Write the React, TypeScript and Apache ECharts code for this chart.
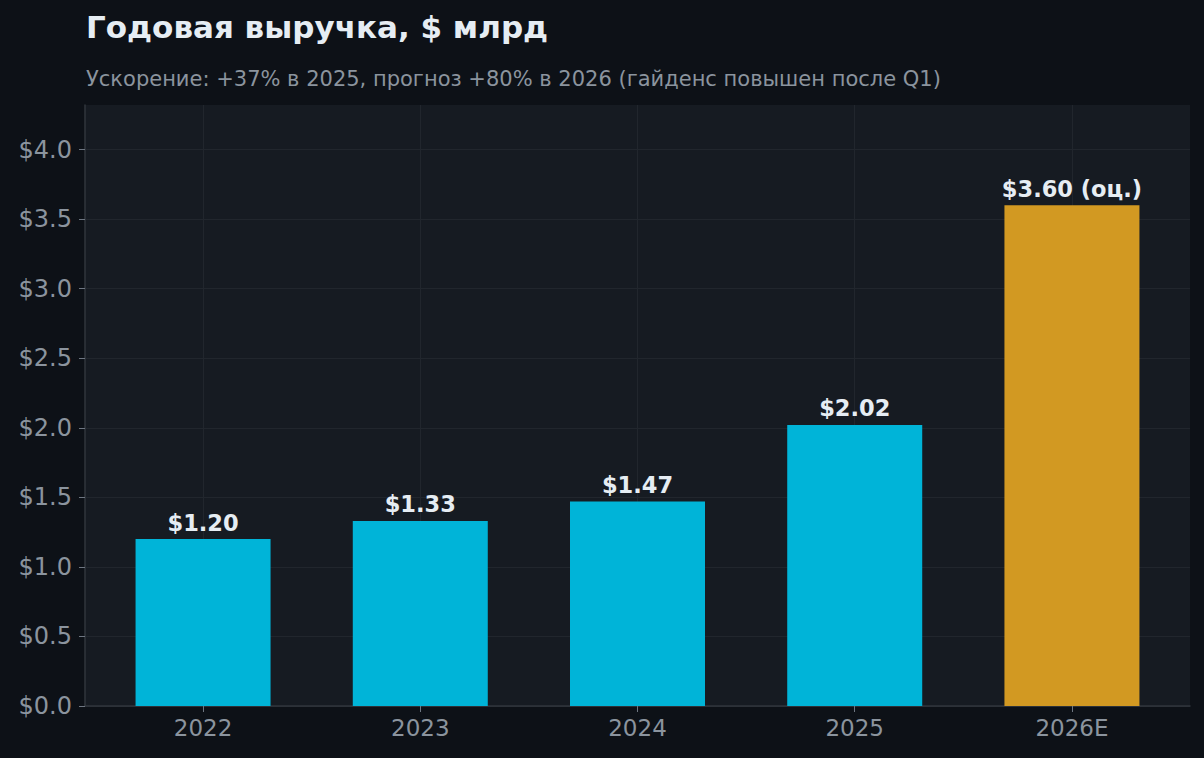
import React, { useEffect, useRef } from 'react'
import * as echarts from 'echarts'

// данные графика
const years = ['2022', '2023', '2024', '2025', '2026E']
const revenue = [1.2, 1.33, 1.47, 2.02, 3.6]
const isEstimate = [false, false, false, false, true]
const yTicks = [0, 0.5, 1.0, 1.5, 2.0, 2.5, 3.0, 3.5, 4.0]

const titleText = 'Годовая выручка, $ млрд'
const subtitleText = 'Ускорение: +37% в 2025, прогноз +80% в 2026 (гайденс повышен после Q1)'

const FONT = '"DejaVu Sans", sans-serif'

export default function App() {
  const chartRef = useRef<HTMLDivElement>(null)

  useEffect(() => {
    document.body.style.margin = '0'
    document.body.style.background = '#0d1117'
    if (!chartRef.current) return
    const chart = echarts.init(chartRef.current, null, { renderer: 'svg' })

    const option = {
      animation: false,
      backgroundColor: '#0d1117',
      textStyle: { fontFamily: FONT },
      title: [
        {
          text: titleText,
          left: 86,
          top: 11,
          padding: 0,
          textStyle: { color: '#e6edf3', fontSize: 31, fontWeight: 'bold', fontFamily: FONT }
        },
        {
          text: subtitleText,
          left: 86,
          top: 68,
          padding: 0,
          textStyle: { color: '#8b949e', fontSize: 21, fontWeight: 'normal', fontFamily: FONT }
        }
      ],
      grid: {
        left: 85,
        right: 14,
        top: 105,
        bottom: 52,
        show: true,
        backgroundColor: '#161b22',
        borderWidth: 0
      },
      xAxis: {
        type: 'value',
        min: -0.5435,
        max: 4.5435,
        axisLine: { show: true, onZero: false, lineStyle: { color: '#30363d', width: 1.5 } },
        axisTick: {
          show: true,
          customValues: years.map((_, i) => i),
          length: 6,
          lineStyle: { color: '#6e7681' }
        },
        axisLabel: {
          customValues: years.map((_, i) => i),
          formatter: (v: number) => years[Math.round(v)] ?? '',
          color: '#8b949e',
          fontSize: 23,
          margin: 10,
          fontFamily: FONT
        },
        splitLine: { show: false }
      },
      yAxis: {
        type: 'value',
        min: 0,
        max: 4.32,
        axisLine: { show: true, onZero: false, lineStyle: { color: '#30363d', width: 1.5 } },
        axisTick: {
          show: true,
          customValues: yTicks,
          length: 6,
          lineStyle: { color: '#6e7681' }
        },
        axisLabel: {
          customValues: yTicks,
          formatter: (v: number) => `$${v.toFixed(1)}`,
          color: '#8b949e',
          fontSize: 24,
          margin: 13,
          fontFamily: FONT
        },
        splitLine: { show: true, lineStyle: { color: '#21262d', width: 1 } }
      },
      series: [
        {
          type: 'bar',
          z: 2,
          barWidth: 135,
          data: revenue.map((v, i) => ({
            value: [i, v],
            itemStyle: { color: isEstimate[i] ? '#d29922' : '#00b4d8' }
          })),
          label: {
            show: true,
            position: 'top',
            distance: 5,
            color: '#e6edf3',
            fontSize: 22.5,
            fontWeight: 'bold',
            fontFamily: FONT,
            formatter: (p: any) => {
              const i = p.dataIndex
              return `$${revenue[i].toFixed(2)}` + (isEstimate[i] ? ' (оц.)' : '')
            }
          },
          markLine: {
            silent: true,
            z: 1,
            symbol: ['none', 'none'],
            label: { show: false },
            lineStyle: { color: '#21262d', width: 1, type: 'solid' },
            data: years.map((_, i) => ({ xAxis: i }))
          }
        }
      ]
    }

    chart.setOption(option)
    return () => {
      chart.dispose()
    }
  }, [])

  return <div ref={chartRef} style={{ width: 1204, height: 758 }} />
}
